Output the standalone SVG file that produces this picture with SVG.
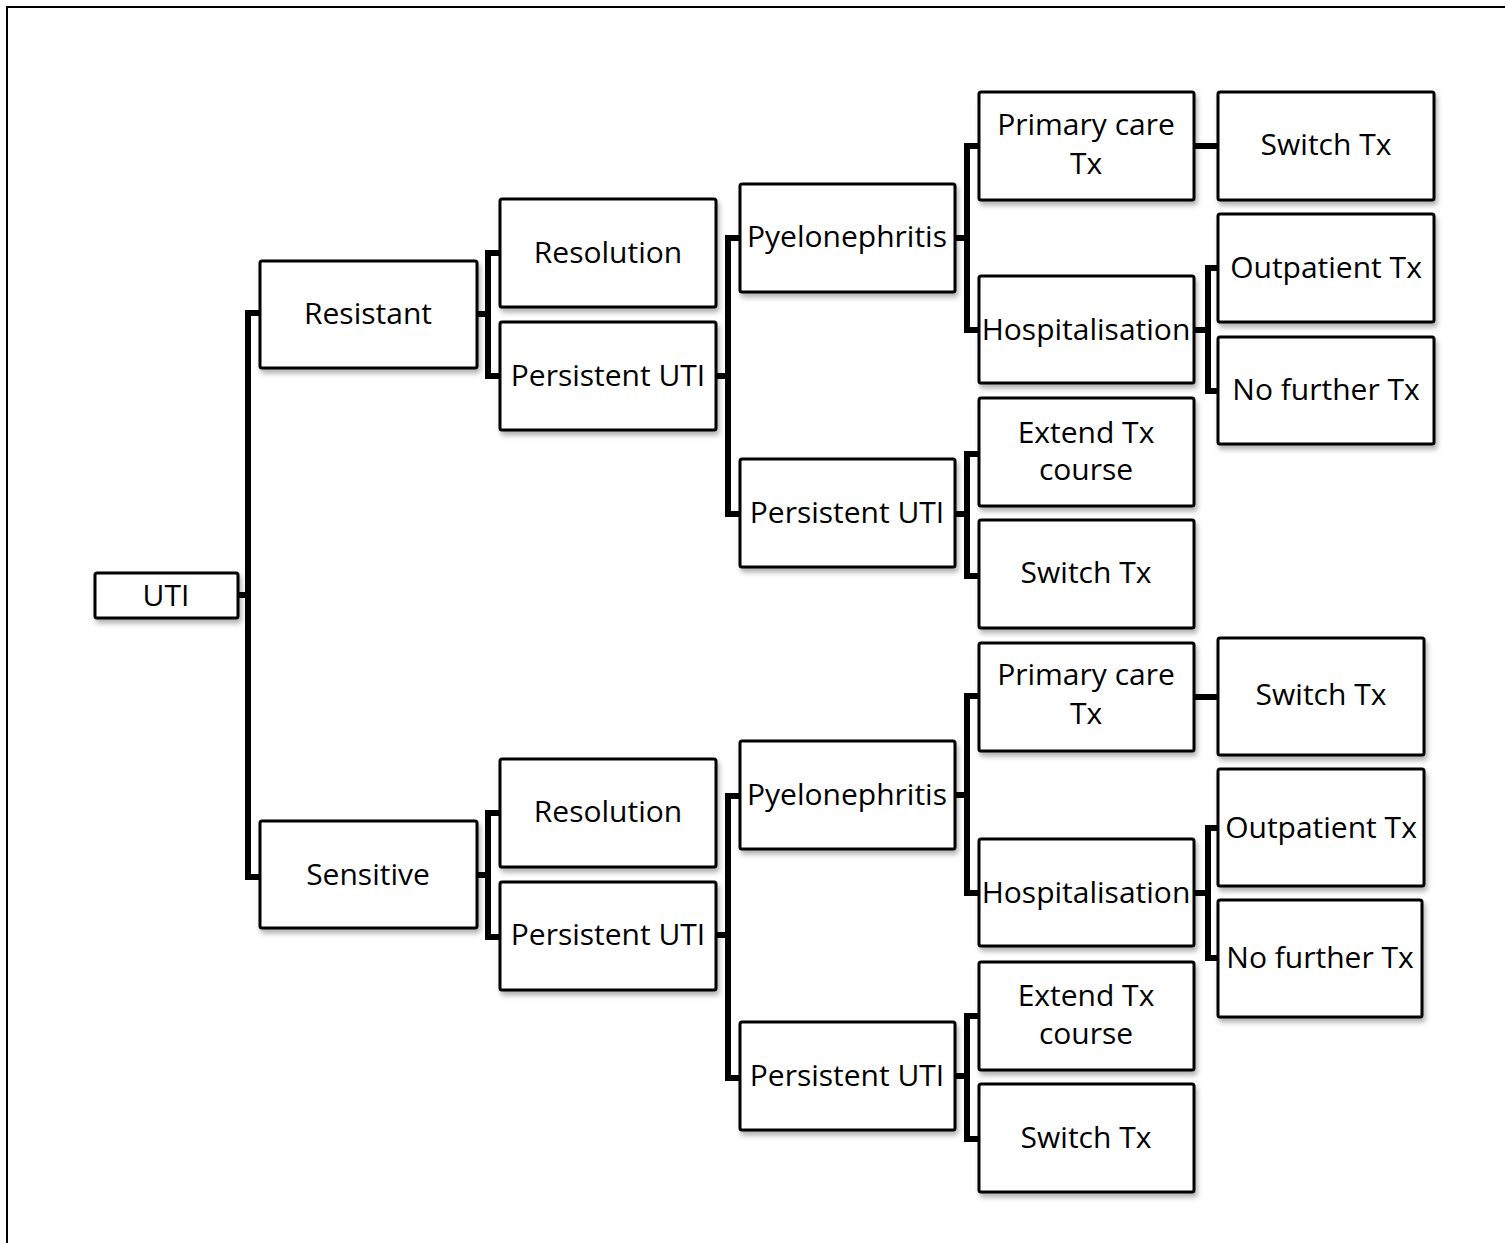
<svg xmlns="http://www.w3.org/2000/svg" width="1505" height="1243" viewBox="0 0 1505 1243">
<defs>
<filter id="sh" x="-10%" y="-10%" width="125%" height="135%">
<feDropShadow dx="2" dy="4" stdDeviation="2.5" flood-color="#000" flood-opacity="0.3"/>
</filter>
<style>
.box{fill:#fff;stroke:#000;stroke-width:3;filter:url(#sh)}
.t{font-family:"Open Sans","Liberation Sans",sans-serif;font-size:30px;fill:#000;text-anchor:middle}
.c{fill:none;stroke:#000;stroke-width:6;stroke-linejoin:miter;stroke-linecap:butt}
.frame{stroke:#000;stroke-width:2;fill:none}
</style>
</defs>
<rect width="1505" height="1243" fill="#fff"/>
<path class="frame" d="M7 1243 V7 H1505"/>
<g id="connectors">
<path class="c" d="M238 595 H248 M260 313 H248 V877 H260"/>
<path class="c" d="M477 314 H488 M500 253 H488 V376 H500"/>
<path class="c" d="M716 376 H728 M740 238 H728 V514 H740"/>
<path class="c" d="M955 238 H967 M979 146 H967 V330 H979"/>
<path class="c" d="M1194 146 H1218"/>
<path class="c" d="M1194 330 H1208 M1218 268 H1208 V391 H1218"/>
<path class="c" d="M955 514 H967 M979 454 H967 V576 H979"/>
<path class="c" d="M477 875 H488 M500 813 H488 V937 H500"/>
<path class="c" d="M716 935 H728 M740 796 H728 V1078 H740"/>
<path class="c" d="M955 795 H967 M979 696 H967 V893 H979"/>
<path class="c" d="M1194 697 H1218"/>
<path class="c" d="M1194 893 H1208 M1218 828 H1208 V958 H1218"/>
<path class="c" d="M955 1076 H967 M979 1016 H967 V1139 H979"/>
</g>
<g id="n-uti"><rect class="box" x="95" y="573" width="143" height="45" rx="2"/><text class="t" x="166" y="606">UTI</text></g>
<g id="n-resistant"><rect class="box" x="260" y="261" width="217" height="107" rx="2"/><text class="t" x="368" y="324">Resistant</text></g>
<g id="n-sensitive"><rect class="box" x="260" y="821" width="217" height="107" rx="2"/><text class="t" x="368" y="885">Sensitive</text></g>
<g id="n-r-resolution"><rect class="box" x="500" y="199" width="216" height="108" rx="2"/><text class="t" x="608" y="263">Resolution</text></g>
<g id="n-r-persistent"><rect class="box" x="500" y="322" width="216" height="108" rx="2"/><text class="t" x="608" y="386">Persistent UTI</text></g>
<g id="n-r-pyelo"><rect class="box" x="740" y="184" width="215" height="108" rx="2"/><text class="t" x="847" y="247">Pyelonephritis</text></g>
<g id="n-r-persistent2"><rect class="box" x="740" y="459" width="215" height="108" rx="2"/><text class="t" x="847" y="523">Persistent UTI</text></g>
<g id="n-r-primary"><rect class="box" x="979" y="92" width="215" height="108" rx="2"/><text class="t" x="1086" y="135">Primary care<tspan x="1086" dy="39">Tx</tspan></text></g>
<g id="n-r-hosp"><rect class="box" x="979" y="276" width="215" height="107" rx="2"/><text class="t" x="1086" y="340">Hospitalisation</text></g>
<g id="n-r-extend"><rect class="box" x="979" y="398" width="215" height="108" rx="2"/><text class="t" x="1086" y="443">Extend Tx<tspan x="1086" dy="37">course</tspan></text></g>
<g id="n-r-switch1"><rect class="box" x="979" y="520" width="215" height="108" rx="2"/><text class="t" x="1086" y="583">Switch Tx</text></g>
<g id="n-r-switch2"><rect class="box" x="1218" y="92" width="216" height="108" rx="2"/><text class="t" x="1326" y="155">Switch Tx</text></g>
<g id="n-r-outpatient"><rect class="box" x="1218" y="214" width="216" height="108" rx="2"/><text class="t" x="1326" y="278">Outpatient Tx</text></g>
<g id="n-r-nofurther"><rect class="box" x="1218" y="337" width="216" height="107" rx="2"/><text class="t" x="1326" y="400">No further Tx</text></g>
<g id="n-s-resolution"><rect class="box" x="500" y="759" width="216" height="108" rx="2"/><text class="t" x="608" y="822">Resolution</text></g>
<g id="n-s-persistent"><rect class="box" x="500" y="882" width="216" height="108" rx="2"/><text class="t" x="608" y="945">Persistent UTI</text></g>
<g id="n-s-pyelo"><rect class="box" x="740" y="741" width="215" height="108" rx="2"/><text class="t" x="847" y="805">Pyelonephritis</text></g>
<g id="n-s-persistent2"><rect class="box" x="740" y="1022" width="215" height="108" rx="2"/><text class="t" x="847" y="1086">Persistent UTI</text></g>
<g id="n-s-primary"><rect class="box" x="979" y="643" width="215" height="108" rx="2"/><text class="t" x="1086" y="685">Primary care<tspan x="1086" dy="39">Tx</tspan></text></g>
<g id="n-s-hosp"><rect class="box" x="979" y="839" width="215" height="107" rx="2"/><text class="t" x="1086" y="903">Hospitalisation</text></g>
<g id="n-s-extend"><rect class="box" x="979" y="962" width="215" height="108" rx="2"/><text class="t" x="1086" y="1006">Extend Tx<tspan x="1086" dy="38">course</tspan></text></g>
<g id="n-s-switch1"><rect class="box" x="979" y="1084" width="215" height="108" rx="2"/><text class="t" x="1086" y="1148">Switch Tx</text></g>
<g id="n-s-switch2"><rect class="box" x="1218" y="638" width="206" height="117" rx="2"/><text class="t" x="1321" y="705">Switch Tx</text></g>
<g id="n-s-outpatient"><rect class="box" x="1218" y="769" width="206" height="117" rx="2"/><text class="t" x="1321" y="838">Outpatient Tx</text></g>
<g id="n-s-nofurther"><rect class="box" x="1218" y="900" width="204" height="117" rx="2"/><text class="t" x="1320" y="968">No further Tx</text></g>
</svg>
